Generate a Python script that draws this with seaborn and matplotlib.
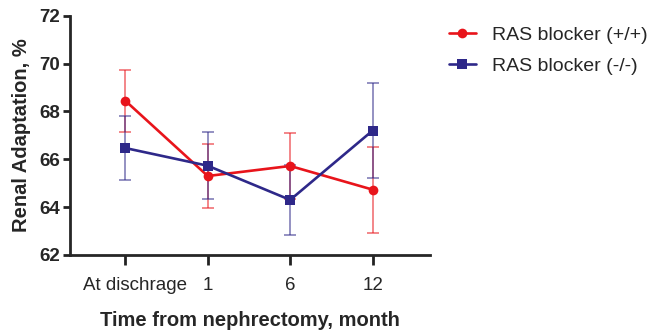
import numpy as np
import matplotlib
matplotlib.use("Agg")
import matplotlib.pyplot as plt
import seaborn as sns
import pandas as pd

sns.set_style("ticks")
plt.rcParams["font.family"] = ["Liberation Sans", "DejaVu Sans"]

# leading spaces reproduce the off-centre first label of the original
timepoints = ["    At dischrage", "1", "6", "12"]
ras_pos_mean = [68.45, 65.3, 65.72, 64.73]
ras_pos_err = [1.3, 1.35, 1.4, 1.8]
ras_neg_mean = [66.47, 65.73, 64.3, 67.2]
ras_neg_err = [1.35, 1.4, 1.48, 2.0]

RED = "#E8141B"
BLUE = "#2E2889"

df = pd.DataFrame({
    "time": timepoints * 2,
    "x": list(range(len(timepoints))) * 2,
    "value": ras_pos_mean + ras_neg_mean,
    "err": ras_pos_err + ras_neg_err,
    "group": ["RAS blocker (+/+)"] * 4 + ["RAS blocker (-/-)"] * 4,
})

fig = plt.figure(figsize=(6.49, 3.31), dpi=100)
ax = fig.add_axes([0.108, 0.23, 0.555, 0.722])

palette = {"RAS blocker (+/+)": RED, "RAS blocker (-/-)": BLUE}
markers = {"RAS blocker (+/+)": "o", "RAS blocker (-/-)": "s"}

for g, sub in df.groupby("group", sort=False):
    ax.errorbar(sub["x"], sub["value"], yerr=sub["err"], fmt="none",
                ecolor=palette[g], alpha=0.6, elinewidth=1.2, capsize=4,
                capthick=1.2, zorder=2)

sns.lineplot(data=df, x="x", y="value", hue="group", style="group",
             palette=palette, markers=markers, dashes=False, ax=ax,
             linewidth=1.9, markersize=7, markeredgewidth=0, zorder=3)

ax.set_xlim(-0.67, 3.7)
ax.set_ylim(62, 72)
ax.set_xticks(range(len(timepoints)))
ax.set_xticklabels(timepoints, fontsize=13.5)
ax.set_yticks(np.arange(62, 73, 2))
ax.set_yticklabels([str(v) for v in range(62, 73, 2)], fontsize=13.5, fontweight="bold")
ax.set_xlabel("Time from nephrectomy, month", fontsize=14.5, fontweight="bold", labelpad=12)
ax.set_ylabel("Renal Adaptation, %", fontsize=14.5, fontweight="bold", labelpad=6)
for s in ["left", "bottom"]:
    ax.spines[s].set_linewidth(2)
sns.despine(ax=ax)
ax.tick_params(axis="y", width=2, length=5, pad=2, color="#222222")
ax.tick_params(axis="x", width=2, length=7, pad=9, color="#222222")

ax.legend(loc="upper left", bbox_to_anchor=(1.03, 0.99), frameon=False,
          fontsize=14, handlelength=1.4, handletextpad=0.8, labelspacing=0.7,
          borderaxespad=0)

fig.savefig("out.png", dpi=100)
